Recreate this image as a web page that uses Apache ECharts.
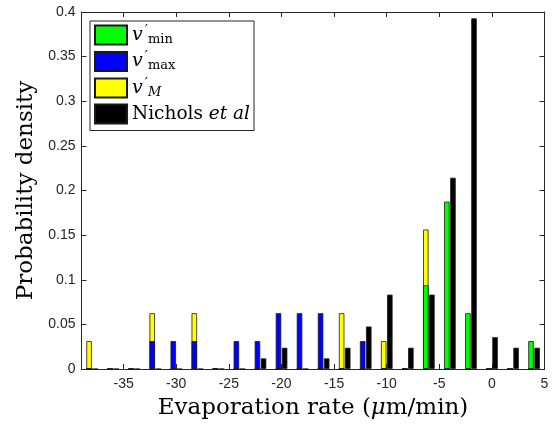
<!DOCTYPE html>
<html><head><meta charset="utf-8">
<script src="https://cdn.jsdelivr.net/npm/echarts@6/dist/echarts.min.js"></script>
<style>html,body{margin:0;padding:0;background:#fff}#c{width:554px;height:426px}</style>
</head><body><div id="c"></div>
<script>
// bin centres (µm/min)
const bins = [-38,-36,-34,-32,-30,-28,-26,-24,-22,-20,-18,-16,-14,-12,-10,-8,-6,-4,-2,0,2,4];
// stacked model series
const vMin = [0,0,0,0,0,0,0,0,0,0,0,0,0,0,0,0,0.09375,0.1875,0.0625,0,0,0.03125];
const vMax = [0,0,0,0.03125,0.03125,0.03125,0,0.03125,0.03125,0.0625,0.0625,0.0625,0,0.03125,0,0,0,0,0,0,0,0];
const vM   = [0.03125,0,0,0.03125,0,0.03125,0,0,0,0,0,0,0.0625,0,0.03125,0,0.0625,0,0,0,0,0];
// Nichols et al
const nichols = [0,0,0,0,0,0,0,0,0.0119,0.0238,0,0.0119,0.0238,0.0476,0.0833,0.0238,0.0833,0.2143,0.3929,0.0357,0.0238,0.0238];
const xTicks = [-35,-30,-25,-20,-15,-10,-5,0,5];
const seriesNames = ['vmin','vmax','vM','Nichols'];

const STACK_OFF = -0.28, BLACK_OFF = 0.3;
const axisColor = '#262626';
const serif = 'DejaVu Serif';

const chart = echarts.init(document.getElementById('c'), null, {renderer:'canvas'});
const barStyle = (c) => ({color:c, borderColor:'#1a1a1a', borderWidth:0.8});
const mk = (arr, off) => bins.map((b,i)=>[b+off, arr[i]]);
// cumulative tops for the stacked group (drawn back-to-front, overlapping)
const cumMax = vMin.map((v,i)=> vMax[i] > 0 ? v + vMax[i] : 0);
const cumM = vMin.map((v,i)=> vM[i] > 0 ? v + vMax[i] + vM[i] : 0);

const legendText = {
  vmin: '{v|v}{p|′}{s|min}',
  vmax: '{v|v}{p|′}{s|max}',
  vM: '{v|v}{p|′}{si|M}',
  Nichols: '{t|Nichols }{it|et al}'
};

const xAxisBase = {
  type:'value', min:-39, max:5,
  axisLine:{show:true, onZero:false, lineStyle:{color:axisColor, width:1}},
  splitLine:{show:false}
};
const yAxisBase = {
  type:'value', min:0, max:0.4, interval:0.05,
  axisLine:{show:true, onZero:false, lineStyle:{color:axisColor, width:1}},
  splitLine:{show:false}
};

chart.setOption({
  animation:false,
  backgroundColor:'#fff',
  grid:{left:81.5, right:9.5, top:12, bottom:57, containLabel:false},
  xAxis:[
    Object.assign({}, xAxisBase, {
      position:'bottom',
      axisTick:{show:true, inside:true, length:5, customValues:xTicks, lineStyle:{color:axisColor}},
      axisLabel:{show:true, customValues:xTicks, margin:8, color:axisColor, fontFamily:'Liberation Sans', fontSize:14},
      name:'Evaporation rate ({i|μ}m/min)', nameLocation:'middle', nameGap:28,
      nameTextStyle:{fontFamily:serif, fontSize:23, color:'#000',
        rich:{i:{fontFamily:serif, fontStyle:'italic', fontSize:23, color:'#000'}}}
    }),
    Object.assign({}, xAxisBase, {
      position:'top',
      axisTick:{show:true, inside:true, length:5, customValues:xTicks, lineStyle:{color:axisColor}},
      axisLabel:{show:false}
    })
  ],
  yAxis:[
    Object.assign({}, yAxisBase, {
      position:'left',
      axisTick:{show:true, inside:true, length:5, lineStyle:{color:axisColor}},
      axisLabel:{show:true, margin:6, color:axisColor, fontFamily:'Liberation Sans', fontSize:14},
      name:'Probability density', nameLocation:'middle', nameGap:43,
      nameTextStyle:{fontFamily:serif, fontSize:23, color:'#000'}
    }),
    Object.assign({}, yAxisBase, {
      position:'right',
      axisTick:{show:true, inside:true, length:5, lineStyle:{color:axisColor}},
      axisLabel:{show:false}
    })
  ],
  legend:{
    data:seriesNames, orient:'vertical', left:90, top:21,
    padding:[3,4,6,4], itemGap:4.5, itemWidth:32, itemHeight:19, icon:'rect',
    borderColor:axisColor, borderWidth:1, backgroundColor:'#fff',
    formatter:(n)=>legendText[n],
    textStyle:{fontFamily:serif, fontSize:18.5, color:'#000',
      rich:{
        v:{fontFamily:serif, fontStyle:'italic', fontSize:19, lineHeight:22, color:'#000'},
        p:{fontFamily:serif, fontSize:14, lineHeight:12, verticalAlign:'top', color:'#000', padding:[0,0,0,2]},
        s:{fontFamily:serif, fontSize:13, lineHeight:10, verticalAlign:'bottom', color:'#000'},
        si:{fontFamily:serif, fontStyle:'italic', fontSize:13, lineHeight:10, verticalAlign:'bottom', color:'#000'},
        t:{fontFamily:serif, fontSize:18.5, lineHeight:22, color:'#000'},
        it:{fontFamily:serif, fontStyle:'italic', fontSize:18.5, lineHeight:22, color:'#000'}
      }}
  },
  series:[
    {name:'vM', type:'bar', barWidth:5.5, barGap:'-100%', data:mk(cumM, STACK_OFF), itemStyle:barStyle('#ffff00')},
    {name:'vmax', type:'bar', barWidth:5.5, barGap:'-100%', data:mk(cumMax, STACK_OFF), itemStyle:barStyle('#0000ff')},
    {name:'vmin', type:'bar', barWidth:5.5, barGap:'-100%', data:mk(vMin, STACK_OFF), itemStyle:barStyle('#00ff00')},
    {name:'Nichols', type:'bar', barWidth:5.5, barGap:'-100%', data:mk(nichols, BLACK_OFF), itemStyle:barStyle('#000000')}
  ]
});
</script></body></html>
